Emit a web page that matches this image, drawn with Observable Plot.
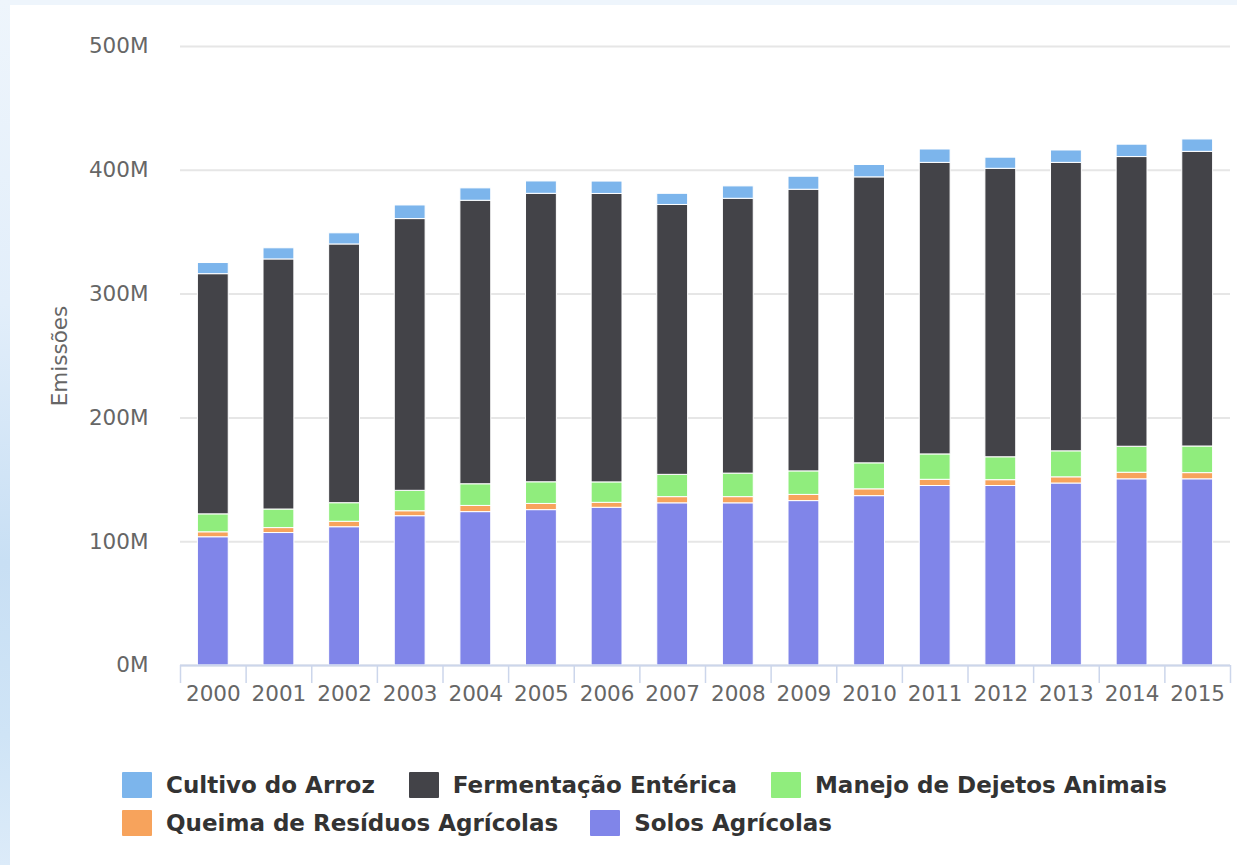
<!DOCTYPE html>
<html>
<head>
<meta charset="utf-8">
<script src="https://cdn.jsdelivr.net/npm/d3@7"></script>
<script src="https://cdn.jsdelivr.net/npm/@observablehq/plot@0.6"></script>
<style>
  html, body { margin: 0; padding: 0; width: 1237px; height: 865px; overflow: hidden; background: #eef5fc; }
  #leftstrip { position: absolute; left: 0; top: 0; width: 10px; height: 865px;
    background: linear-gradient(to bottom, #eef5fc 0%, #e2eefa 35%, #c8dff4 65%, #cfe4f6 85%, #dcebf9 100%); }
  #panel { position: absolute; left: 10px; top: 5px; width: 1227px; height: 860px; background: #fff; }
  #chart { position: absolute; left: 0; top: 0; }
  #legend { position: absolute; left: 122px; top: 770px; font-family: "DejaVu Sans", sans-serif;
    font-weight: bold; font-size: 23px; color: #333; }
  .row { display: flex; align-items: center; height: 30px; margin-bottom: 8px; }
  .item { display: flex; align-items: center; }
  .sw { width: 30px; height: 26px; margin-right: 14px; border-radius: 1px; }
</style>
</head>
<body>
<div id="leftstrip"></div>
<div id="panel"></div>
<div id="chart"></div>
<div id="legend"></div>
<script>
// ---- Data (values in millions) ----
const years = ["2000","2001","2002","2003","2004","2005","2006","2007","2008","2009","2010","2011","2012","2013","2014","2015"];
const seriesNames = ["Cultivo do Arroz", "Fermentação Entérica", "Manejo de Dejetos Animais", "Queima de Resíduos Agrícolas", "Solos Agrícolas"];
const seriesColors = ["#7cb5ec", "#434348", "#90ed7d", "#f7a35c", "#8085e9"];
const cultivoArroz   = [9, 9, 9, 11, 10, 10, 10, 9, 10, 10.5, 10, 10.8, 9, 10, 10, 10];
const fermentacao    = [194, 202, 209, 219.5, 229, 233, 233, 218, 222, 227.5, 231, 235.5, 233, 233, 234, 238];
const manejoDejetos  = [14.5, 15, 15, 16.5, 17.5, 17.5, 16.5, 18, 19, 19, 21, 20.5, 18.5, 21, 21, 21.5];
const queimaResiduos = [4, 4, 4.4, 4, 5, 5, 4, 5, 5, 5, 5.5, 5, 4.7, 5, 5.3, 5];
const solosAgricolas = [103.6, 107, 111.7, 120.6, 123.9, 125.5, 127.4, 131, 131, 132.8, 136.8, 145, 145, 147, 150.4, 150.4];
const yTicks = [0, 100e6, 200e6, 300e6, 400e6, 500e6];

// bottom-to-top stacking order
const stackSeries = [
  [seriesNames[4], solosAgricolas],
  [seriesNames[3], queimaResiduos],
  [seriesNames[2], manejoDejetos],
  [seriesNames[1], fermentacao],
  [seriesNames[0], cultivoArroz]
];
const table = [];
for (const [name, vals] of stackSeries) {
  years.forEach((yr, i) => table.push({year: yr, series: name, value: vals[i] * 1e6}));
}

const W = 1237, H = 715, mL = 180, mR = 7, mT = 46, mB = 50;
const step = (W - mL - mR) / years.length;

const chart = Plot.plot({
  width: W, height: H,
  marginLeft: mL, marginRight: mR, marginTop: mT, marginBottom: mB,
  style: {background: "transparent", fontFamily: "DejaVu Sans, sans-serif", fontSize: "21.5px", color: "#666", overflow: "visible"},
  x: {type: "band", domain: years, paddingInner: 0.53, paddingOuter: 0.265, align: 0.5, round: false},
  y: {domain: [0, 500e6]},
  color: {domain: seriesNames, range: seriesColors},
  marks: [
    Plot.gridY(yTicks, {stroke: "#e6e6e6", strokeOpacity: 1, strokeWidth: 2}),
    Plot.barY(table, {x: "year", y: "value", fill: "series", stroke: "#fff", strokeWidth: 1}),
    Plot.ruleY([0], {stroke: "#ccd6eb", strokeWidth: 2}),
    Plot.axisY(yTicks, {tickSize: 0, tickPadding: 32, tickFormat: d => (d / 1e6) + "M", fill: "#666",
      label: "Emissões", labelAnchor: "center", labelOffset: 129, labelArrow: "none"}),
    Plot.axisX({tickSize: 0, tickPadding: 20, fill: "#666", label: null}),
    Plot.axisX({tickSize: 18, tickFormat: () => "", stroke: "#ccd6eb", strokeWidth: 1.5, dx: -step / 2, label: null}),
    Plot.axisX(years.slice(-1), {tickSize: 18, tickFormat: () => "", stroke: "#ccd6eb", strokeWidth: 1.5, dx: step / 2, label: null})
  ]
});
document.getElementById("chart").appendChild(chart);

// ---- Legend ----
const legendRows = [[0, 1, 2], [3, 4]];
const rowGaps = [34, 32];
const legend = document.getElementById("legend");
legendRows.forEach((row, r) => {
  const div = document.createElement("div");
  div.className = "row";
  div.style.gap = rowGaps[r] + "px";
  row.forEach(i => {
    const it = document.createElement("div");
    it.className = "item";
    const sw = document.createElement("div");
    sw.className = "sw";
    sw.style.background = seriesColors[i];
    const tx = document.createElement("span");
    tx.textContent = seriesNames[i];
    it.appendChild(sw); it.appendChild(tx);
    div.appendChild(it);
  });
  legend.appendChild(div);
});
</script>
</body>
</html>
